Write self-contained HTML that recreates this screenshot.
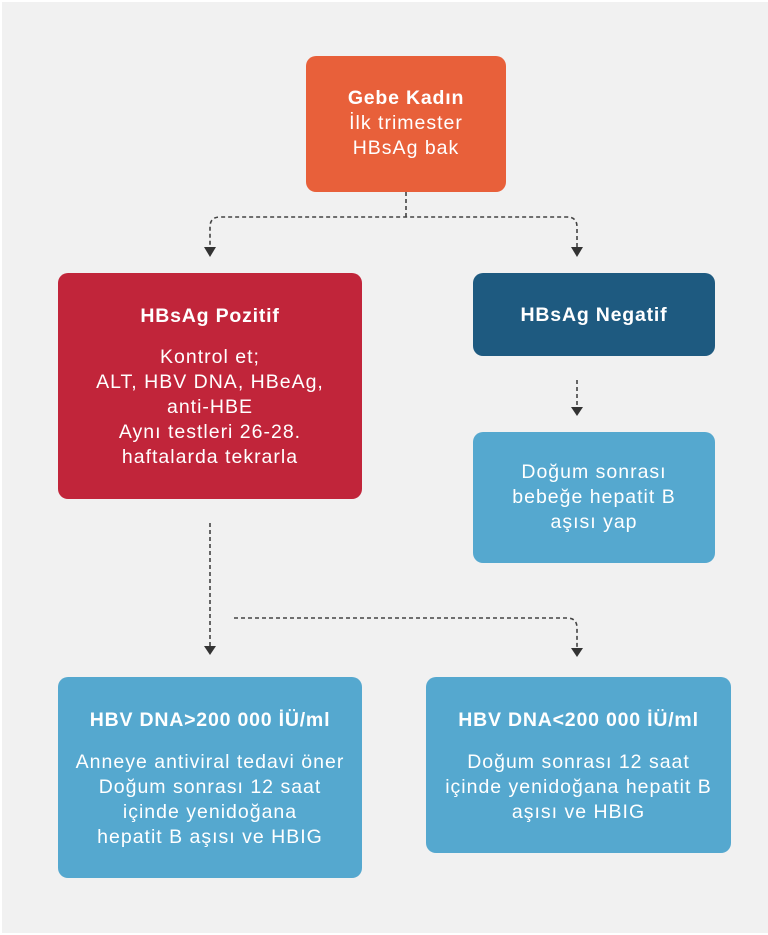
<!DOCTYPE html>
<html><head><meta charset="utf-8"><style>
html,body{margin:0;padding:0}
body{width:768px;height:935px;background:#fff;position:relative;overflow:hidden;font-family:"Liberation Sans",sans-serif;}
.bg{position:absolute;left:2px;top:2px;width:766px;height:931px;background:#f1f1f1}
.box{position:absolute;border-radius:10px;color:#fff;text-align:center;font-size:19.5px;letter-spacing:1px;line-height:25px;box-sizing:border-box;white-space:nowrap}
.b{font-weight:bold;letter-spacing:0.8px}
</style></head><body>
<div class="bg"></div>
<svg width="768" height="935" style="position:absolute;left:0;top:0">
<g fill="none" stroke="#444" stroke-width="1.6" stroke-dasharray="4,3">
<path d="M406 192 V217"/>
<path d="M577 254 V227 Q577 217 567 217 H220 Q210 217 210 227 V254"/>
<path d="M577 380 V408"/>
<path d="M210 523 V648"/>
<path d="M234 618 H567 Q577 618 577 628 V650"/>
</g>
<g fill="#333">
<path d="M204 247 H216 L210 257 Z"/>
<path d="M571 247 H583 L577 257 Z"/>
<path d="M571 407 H583 L577 416 Z"/>
<path d="M204 646 H216 L210 655 Z"/>
<path d="M571 648 H583 L577 657 Z"/>
</g>
</svg>
<div class="box" style="left:306px;top:56px;width:200px;height:136px;background:#e8603a;padding-top:30px"><div class="b">Gebe Kadın</div>İlk trimester<br>HBsAg bak</div>
<div class="box" style="left:58px;top:273px;width:304px;height:226px;background:#c1253a;padding-top:31px"><div class="b">HBsAg Pozitif</div><div style="height:16px"></div>Kontrol et;<br>ALT, HBV DNA, HBeAg,<br>anti-HBE<br>Aynı testleri 26-28.<br>haftalarda tekrarla</div>
<div class="box" style="left:473px;top:273px;width:242px;height:83px;background:#1e5a80;padding-top:30px"><div class="b">HBsAg Negatif</div></div>
<div class="box" style="left:473px;top:432px;width:242px;height:131px;background:#55a8cf;padding-top:28px">Doğum sonrası<br>bebeğe hepatit B<br>aşısı yap</div>
<div class="box" style="left:58px;top:677px;width:304px;height:201px;background:#55a8cf;padding-top:31px"><div class="b">HBV DNA&gt;200 000 İÜ/ml</div><div style="height:17px"></div>Anneye antiviral tedavi öner<br>Doğum sonrası 12 saat<br>içinde yenidoğana<br>hepatit B aşısı ve HBIG</div>
<div class="box" style="left:426px;top:677px;width:305px;height:176px;background:#55a8cf;padding-top:31px"><div class="b">HBV DNA&lt;200 000 İÜ/ml</div><div style="height:17px"></div>Doğum sonrası 12 saat<br>içinde yenidoğana hepatit B<br>aşısı ve HBIG</div>
</body></html>
